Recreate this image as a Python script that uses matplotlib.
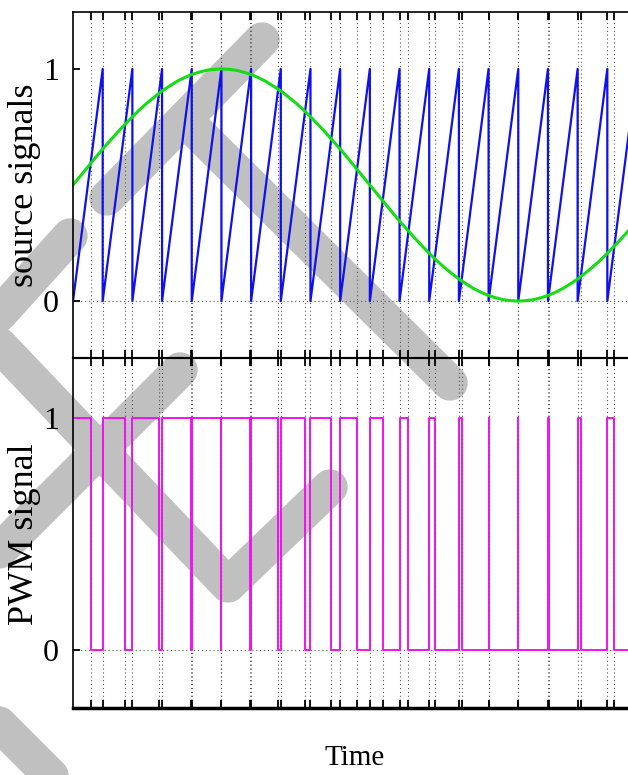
import numpy as np
import matplotlib.pyplot as plt

# values (time in carrier periods)
reset_t = [1, 2, 3, 4, 5, 6, 7, 8, 9, 10, 11, 12, 13, 14, 15, 16, 17, 18, 19]
fall_t = [0.61, 1.76, 2.91, 3.96, 4.99, 5.97, 6.91, 7.82, 8.70, 9.57,
          10.43, 11.30, 12.20, 13.09, 14.02, 15.005, 16.02, 17.10, 18.23]

# green reference signal, read every quarter period
sine_t = np.arange(0, 19.01, 0.25)
sine_v = [0.500, 0.539, 0.578, 0.617, 0.655, 0.691, 0.727, 0.761, 0.794, 0.825,
          0.854, 0.880, 0.905, 0.926, 0.946, 0.962, 0.976, 0.986, 0.994, 0.998,
          1.000, 0.998, 0.994, 0.986, 0.976, 0.962, 0.946, 0.926, 0.905, 0.880,
          0.854, 0.825, 0.794, 0.761, 0.727, 0.691, 0.655, 0.617, 0.578, 0.539,
          0.500, 0.461, 0.422, 0.383, 0.345, 0.309, 0.273, 0.239, 0.206, 0.175,
          0.146, 0.120, 0.095, 0.074, 0.054, 0.038, 0.024, 0.014, 0.006, 0.002,
          0.000, 0.002, 0.006, 0.014, 0.024, 0.038, 0.054, 0.074, 0.095, 0.120,
          0.146, 0.175, 0.206, 0.239, 0.273, 0.309, 0.345]

# grey watermark strokes (figure pixels, y down)
strokes = [
    [(262, 40), (107, 198)],
    [(190, 125), (450, 383)],
    [(70, 236), (-15, 330), (228, 585), (330, 487)],
    [(180, 370), (-30, 580)],
    [(-60, 665), (90, 815)],
]

W, H = 628, 775
fig = plt.figure(figsize=(W / 100, H / 100), dpi=100)
plt.rcParams['font.family'] = ['Liberation Serif', 'DejaVu Serif']

# watermark behind everything
bg = fig.add_axes([0, 0, 1, 1], zorder=0)
bg.set_xlim(0, W)
bg.set_ylim(H, 0)
bg.axis('off')
for s in strokes:
    xs, ys = zip(*s)
    bg.plot(xs, ys, color='#c0c0c0', lw=25.5, solid_capstyle='round',
            solid_joinstyle='round')

ax1 = fig.add_axes([73 / W, 1 - 358 / H, 564 / W, 346 / H], zorder=1)
ax2 = fig.add_axes([73 / W, 1 - 708 / H, 564 / W, 350 / H], zorder=1)

# sawtooth carrier
starts = [0] + reset_t[:-1]
saw_x, saw_y = [], []
for a, b in zip(starts, reset_t):
    saw_x += [a, b, b]
    saw_y += [0, 1, 0]
ax1.plot(saw_x, saw_y, color='#1010ee', lw=1.6)
ax1.plot(sine_t, sine_v, color='#14dd14', lw=2.2)

# PWM output
pwm_x, pwm_y = [0], [1]
for k, f in enumerate(fall_t):
    pwm_x += [f, f]
    pwm_y += [1, 0]
    if k < len(reset_t) - 1:
        r = reset_t[k]
        pwm_x += [r, r]
        pwm_y += [0, 1]
pwm_x.append(reset_t[-1])
pwm_y.append(0)
ax2.plot(pwm_x, pwm_y, color='#f014f0', lw=1.4)

edges = sorted(fall_t + reset_t[:-1])
for ax, ylim in ((ax1, (-0.245, 1.245)), (ax2, (-0.25, 1.26))):
    ax.set_facecolor('none')
    ax.set_xlim(0, 19)
    ax.set_ylim(*ylim)
    ax.set_xticks(edges)
    ax.set_xticklabels([])
    ax.set_yticks([0, 1])
    ax.set_yticklabels(['0', '1'], fontsize=23)
    ax.tick_params(axis='x', direction='in', top=True, bottom=True,
                   length=6, width=1.3, color='black')
    ax.tick_params(axis='y', direction='in', left=True, right=False,
                   length=5, width=1.3, pad=10)
    ax.grid(axis='x', linestyle=(0, (1, 2.5)), color='0.35', lw=0.8)
    ax.axhline(0, linestyle=(0, (1, 2.5)), color='0.35', lw=0.8, zorder=0.5)
    for side in ('left', 'top', 'right'):
        ax.spines[side].set_linewidth(1.2)
    ax.spines['bottom'].set_linewidth(1.5)

ax2.spines['top'].set_linewidth(1.5)
ax2.spines['bottom'].set_linewidth(2.5)

fig.text(25 / W, 1 - 185 / H, 'source signals', rotation=90, fontsize=26,
         ha='center', va='center')
fig.text(25 / W, 1 - 534 / H, 'PWM signal', rotation=90, fontsize=26,
         ha='center', va='center')
fig.text(355 / W, 1 - 758 / H, 'Time', fontsize=21, ha='center', va='center')

fig.savefig('out.png', dpi=100)
